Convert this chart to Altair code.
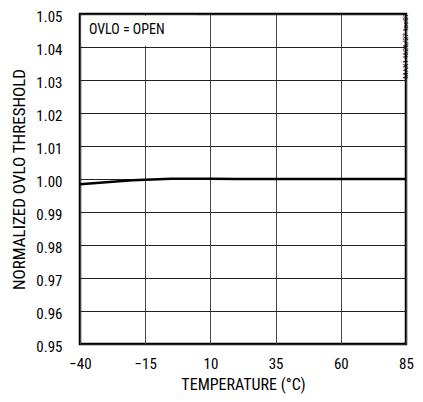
import altair as alt
import pandas as pd

temps = [-40, -30, -20, -15, -5, 0, 10, 20, 35, 60, 85]
thresholds = [0.9984, 0.9990, 0.9996, 0.9998, 1.0001, 1.0001, 1.0001, 1.0, 1.0, 1.0, 1.0]
x_ticks = [-40, -15, 10, 35, 60, 85]
y_ticks = [0.95, 0.96, 0.97, 0.98, 0.99, 1.00, 1.01, 1.02, 1.03, 1.04, 1.05]

FONT = "Roboto Condensed, sans-serif"
XTITLE = "TEMPERATURE (°C)"
YTITLE = "NORMALIZED OVLO THRESHOLD"

df = pd.DataFrame({"t": temps, "v": thresholds})

xs = alt.Scale(domain=[-40, 85], nice=False, zero=False)
ys = alt.Scale(domain=[0.95, 1.05], nice=False, zero=False)

xaxis = alt.Axis(values=x_ticks, grid=True, gridColor="#444", gridWidth=1,
                 ticks=False, domain=False, labelFont=FONT, labelFontSize=15,
                 labelColor="black", labelPadding=12, titleFont=FONT,
                 titleFontSize=16, titleFontWeight="normal", titleColor="black",
                 titlePadding=5, labelFlush=False, labelOverlap=False)
yaxis = alt.Axis(values=y_ticks, format=".2f", grid=True, gridColor="#222",
                 gridWidth=1, ticks=False, domain=False, labelFont=FONT,
                 labelFontSize=15, labelColor="black", labelPadding=18, labelOffset=2,
                 titleFont=FONT, titleFontSize=17, titleFontWeight="normal",
                 titleColor="black", titlePadding=7, labelFlush=False,
                 labelOverlap=False)

line = alt.Chart(df).mark_line(color="black", strokeWidth=2.5).encode(
    x=alt.X("t:Q", scale=xs, title=XTITLE, axis=xaxis),
    y=alt.Y("v:Q", scale=ys, title=YTITLE, axis=yaxis),
)

box_df = pd.DataFrame({"x1": [-39.5], "x2": [5], "y1": [1.0404], "y2": [1.0495]})
box = alt.Chart(box_df).mark_rect(color="white").encode(
    x=alt.X("x1:Q", scale=xs, title=XTITLE, axis=xaxis), x2="x2:Q",
    y=alt.Y("y1:Q", scale=ys, title=YTITLE, axis=yaxis), y2="y2:Q",
)

lbl_df = pd.DataFrame({"x": [-40], "y": [1.0452], "text": ["OVLO = OPEN"]})
label = alt.Chart(lbl_df).mark_text(align="left", baseline="middle", dx=9,
                                    font=FONT, fontSize=14, color="black").encode(
    x=alt.X("x:Q", scale=xs, title=XTITLE, axis=xaxis),
    y=alt.Y("y:Q", scale=ys, title=YTITLE, axis=yaxis),
    text="text:N")

wm_df = pd.DataFrame({"x": [85], "y": [1.0388], "text": ["MAX14626/27 toc07"]})
wm = alt.Chart(wm_df).mark_text(align="center", baseline="middle", dx=5, angle=270,
                                font=FONT, fontSize=8, color="black").encode(
    x=alt.X("x:Q", scale=xs, title=XTITLE, axis=xaxis),
    y=alt.Y("y:Q", scale=ys, title=YTITLE, axis=yaxis),
    text="text:N")

chart = alt.layer(line, box, label, wm).properties(
    width=326, height=330,
    autosize=alt.AutoSizeParams(type="none"),
    padding={"left": 72, "top": 6, "right": 9, "bottom": 50},
).configure(background="white").configure_view(stroke="black", strokeWidth=2.5)

chart.save("out.html", embed_options={"renderer": "svg", "actions": False})
